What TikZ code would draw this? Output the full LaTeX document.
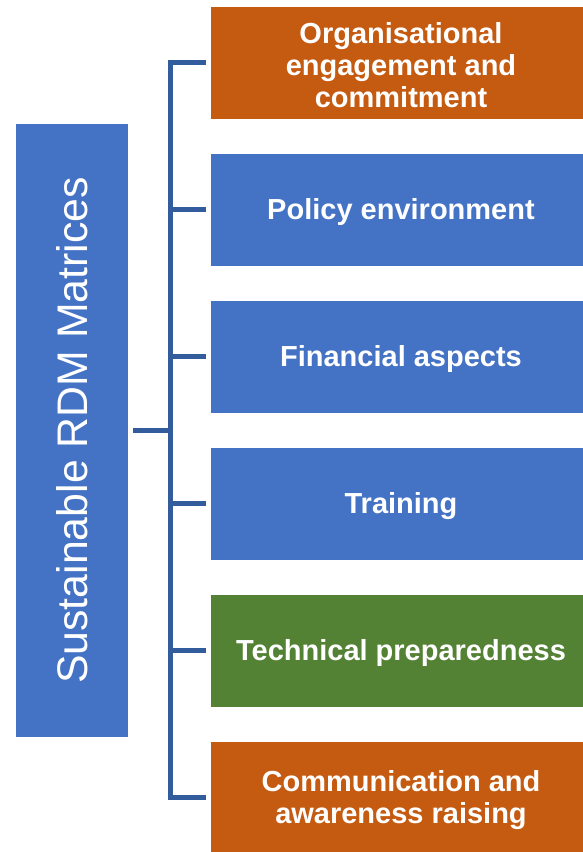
\documentclass[tikz,border=0pt]{standalone}
\usepackage{fontspec}
\setmainfont{Liberation Sans}
\definecolor{rorange}{HTML}{C55A11}
\definecolor{rblue}{HTML}{4472C4}
\definecolor{rgreen}{HTML}{548235}
\definecolor{rline}{HTML}{335C9C}
\begin{document}
\begin{tikzpicture}[x=1pt,y=1pt,
  itembox/.style={draw=none, minimum width=372pt, minimum height=112pt, inner sep=0pt},
  itemtext/.style={text=white, font=\fontsize{29}{32}\selectfont\bfseries, align=center, inner sep=0pt},
  conn/.style={draw=rline, line width=5pt, line join=miter, shorten <=5pt}]
\useasboundingbox (0,0) rectangle (583,852);
\node[fill=rblue, minimum width=112pt, minimum height=613pt, inner sep=0pt] (main) at (72,421.5) {};
\node[rotate=90, text=white, font=\fontsize{42.8}{48}\selectfont] (mainlabel) at (72,421.5) {Sustainable RDM Matrices};
\node[itembox, fill=rorange] (b1) at (397,789) {};
\node[itembox, fill=rblue] (b2) at (397,642) {};
\node[itembox, fill=rblue] (b3) at (397,495) {};
\node[itembox, fill=rblue] (b4) at (397,348) {};
\node[itembox, fill=rgreen] (b5) at (397,201) {};
\node[itembox, fill=rorange] (b6) at (397,54) {};
\node[itemtext] (t1) at ([xshift=4pt,yshift=-2pt]b1.center) {Organisational\\engagement and\\commitment};
\node[itemtext] (t2) at ([xshift=4pt,yshift=-2pt]b2.center) {Policy environment};
\node[itemtext] (t3) at ([xshift=4pt,yshift=-2pt]b3.center) {Financial aspects};
\node[itemtext] (t4) at ([xshift=4pt,yshift=-2pt]b4.center) {Training};
\node[itemtext] (t5) at ([xshift=4pt,yshift=-2pt]b5.center) {Technical preparedness};
\node[itemtext] (t6) at ([xshift=4pt,yshift=-2pt]b6.center) {Communication and\\awareness raising};
\coordinate (hub) at (170,421);
\draw[conn] (main.east |- hub) -- (hub);
\foreach \b in {b1,b2,b3,b4,b5,b6} {
  \draw[conn] (\b.west) -| (hub);
}
\end{tikzpicture}
\end{document}
